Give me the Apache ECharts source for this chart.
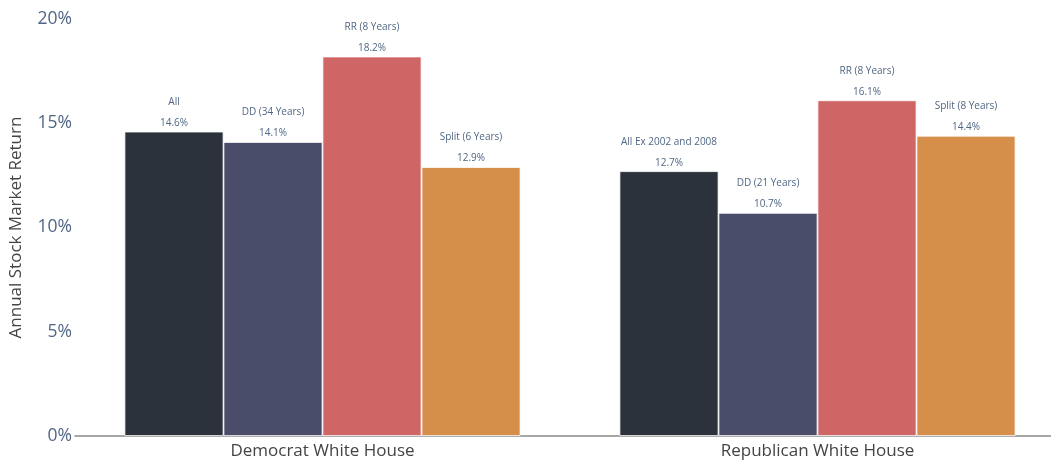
<!DOCTYPE html>
<html><head><meta charset="utf-8">
<script src="https://cdn.jsdelivr.net/npm/echarts@6/dist/echarts.min.js"></script>
<style>html,body{margin:0;padding:0;background:#fff;overflow:hidden}#c{width:1065px;height:463px}</style>
</head><body><div id="c"></div>
<script>
const categories = ['Democrat White House', 'Republican White House'];
const seriesColors = ['#2c323b', '#4a4d6a', '#d06566', '#d68e4b'];
const allValues = [14.6, 12.7];
const allNames = ['All', 'All Ex 2002 and 2008'];
const ddValues = [14.1, 10.7];
const ddNames = ['DD (34 Years)', 'DD (21 Years)'];
const rrValues = [18.2, 16.1];
const rrNames = ['RR (8 Years)', 'RR (8 Years)'];
const splitValues = [12.9, 14.4];
const splitNames = ['Split (6 Years)', 'Split (8 Years)'];
const yTicks = [0, 5, 10, 15, 20];

const groups = [
  [allValues, allNames],
  [ddValues, ddNames],
  [rrValues, rrNames],
  [splitValues, splitNames]
];
const font = '"Open Sans", sans-serif';
const chart = echarts.init(document.getElementById('c'));
chart.setOption({
  animation: false,
  grid: { left: 72, right: 0, top: 19, bottom: 27, containLabel: false },
  xAxis: {
    type: 'category',
    data: categories,
    axisTick: { show: false },
    axisLine: { lineStyle: { color: '#8a8a8a', width: 1.5 } },
    axisLabel: { color: '#444', fontSize: 17, fontFamily: font, margin: 7 }
  },
  yAxis: {
    type: 'value',
    min: yTicks[0], max: yTicks[yTicks.length - 1], interval: yTicks[1] - yTicks[0],
    name: 'Annual Stock Market Return',
    nameLocation: 'middle',
    nameGap: 50,
    nameTextStyle: { color: '#444', fontSize: 17, fontFamily: font },
    splitLine: { show: false },
    axisLine: { show: false },
    axisTick: { show: false },
    axisLabel: { color: '#506784', fontSize: 17.5, fontFamily: font, margin: 3,
      formatter: v => v + '%' }
  },
  series: groups.map((g, i) => ({
    type: 'bar',
    data: g[0].map((v, j) => ({ value: v, name: g[1][j] })),
    barGap: '0%',
    barCategoryGap: '20%',
    itemStyle: { color: seriesColors[i], borderColor: '#fff', borderWidth: 0.8 },
    label: {
      show: true,
      position: 'top',
      distance: -2,
      formatter: p => g[1][p.dataIndex] + '\n' + p.value.toFixed(1) + '%',
      color: '#506784',
      fontSize: 10,
      fontFamily: font,
      lineHeight: 21
    }
  }))
});
</script></body></html>
